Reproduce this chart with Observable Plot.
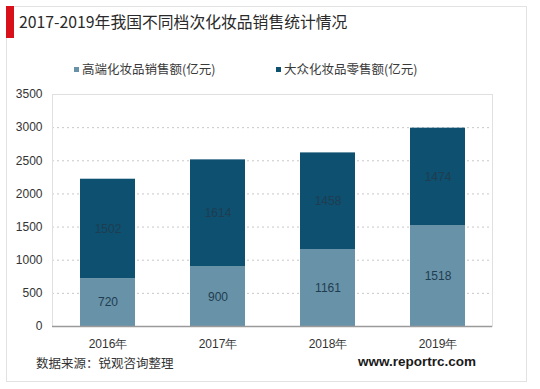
<!DOCTYPE html>
<html><head><meta charset="utf-8">
<script src="https://cdn.jsdelivr.net/npm/d3@7"></script>
<script src="https://cdn.jsdelivr.net/npm/@observablehq/plot@0.6"></script>
<style>
html,body{margin:0;padding:0;background:#fff;}
#wrap{position:relative;width:540px;height:389px;font-family:"Noto Sans CJK SC","Liberation Sans",sans-serif;overflow:hidden;}
#card{position:absolute;left:6px;top:6px;width:521px;height:376px;border:1px solid #e2e2e2;box-sizing:border-box;}
#redbar{position:absolute;left:6px;top:6px;width:8px;height:32px;background:#d8101a;}
#title{position:absolute;left:19px;top:10px;font-size:15.8px;color:#2a2a2a;white-space:nowrap;}
.leg{position:absolute;top:59px;font-size:12.5px;color:#3a3a3a;white-space:nowrap;}
.sw{display:inline-block;width:5px;height:5px;margin-right:3px;vertical-align:middle;position:relative;top:-1px;}
#src{position:absolute;left:36px;top:353px;font-size:12.5px;color:#333;white-space:nowrap;}
#web{position:absolute;left:358px;top:354px;font-size:13.5px;font-weight:bold;color:#1a1a1a;white-space:nowrap;font-family:"Liberation Sans",Arial,sans-serif;}
#chart{position:absolute;left:0;top:0;}
</style></head>
<body><div id="wrap">
<div id="card"></div>
<div id="chart"></div>
<div id="redbar"></div>
<div id="title">2017-2019年我国不同档次化妆品销售统计情况</div>
<div class="leg" style="left:74px"><span class="sw" style="background:#6892a8"></span>高端化妆品销售额(亿元)</div>
<div class="leg" style="left:276px"><span class="sw" style="background:#0d5070"></span>大众化妆品零售额(亿元)</div>
<div id="src">数据来源：锐观咨询整理</div>
<div id="web">www.reportrc.com</div>
</div>
<script>
const years = ["2016年","2017年","2018年","2019年"];
const seriesNames = ["高端化妆品销售额(亿元)","大众化妆品零售额(亿元)"];
const highEnd = [720, 900, 1161, 1518];
const mass = [1502, 1614, 1458, 1474];
const yTicks = [0,500,1000,1500,2000,2500,3000,3500];
const colors = ["#6892a8","#0d5070"];

const rows = [];
years.forEach((y,i)=>{
  rows.push({year:y, series:seriesNames[0], value:highEnd[i]});
  rows.push({year:y, series:seriesNames[1], value:mass[i]});
});

const chart = Plot.plot({
  width:540, height:389,
  marginLeft:52, marginRight:48, marginTop:94, marginBottom:63,
  style:{fontFamily:"Liberation Sans, Arial, sans-serif", fontSize:"12px", color:"#333", background:"transparent"},
  x:{domain:years, paddingInner:0.5, paddingOuter:0.25, label:null},
  y:{domain:[0,3500], ticks:yTicks, label:null},
  color:{domain:seriesNames, range:colors},
  marks:[
    Plot.gridY(yTicks.filter(t=>t>0 && t<3500), {stroke:"#c8c8c8", strokeOpacity:1, strokeDasharray:"2,3"}),
    Plot.frame({stroke:"#e0e0e0"}),
    Plot.barY(rows, Plot.stackY({x:"year", y:"value", fill:"series", order:seriesNames})),
    Plot.text(rows, Plot.stackY({x:"year", y:"value", z:"series", order:seriesNames, text:d=>String(d.value), fill:"#1f3d50", fontSize:12})),
    Plot.ruleY([0], {stroke:"#9a9a9a", strokeWidth:1.5}),
    Plot.axisX({tickSize:0, tickPadding:13, fontSize:12, fill:"#333", label:null}),
    Plot.axisY({ticks:yTicks, tickSize:0, tickPadding:10, fontSize:12, fill:"#333", label:null, tickFormat:d=>String(d)})
  ]
});
document.getElementById("chart").appendChild(chart);
</script>
</body></html>
